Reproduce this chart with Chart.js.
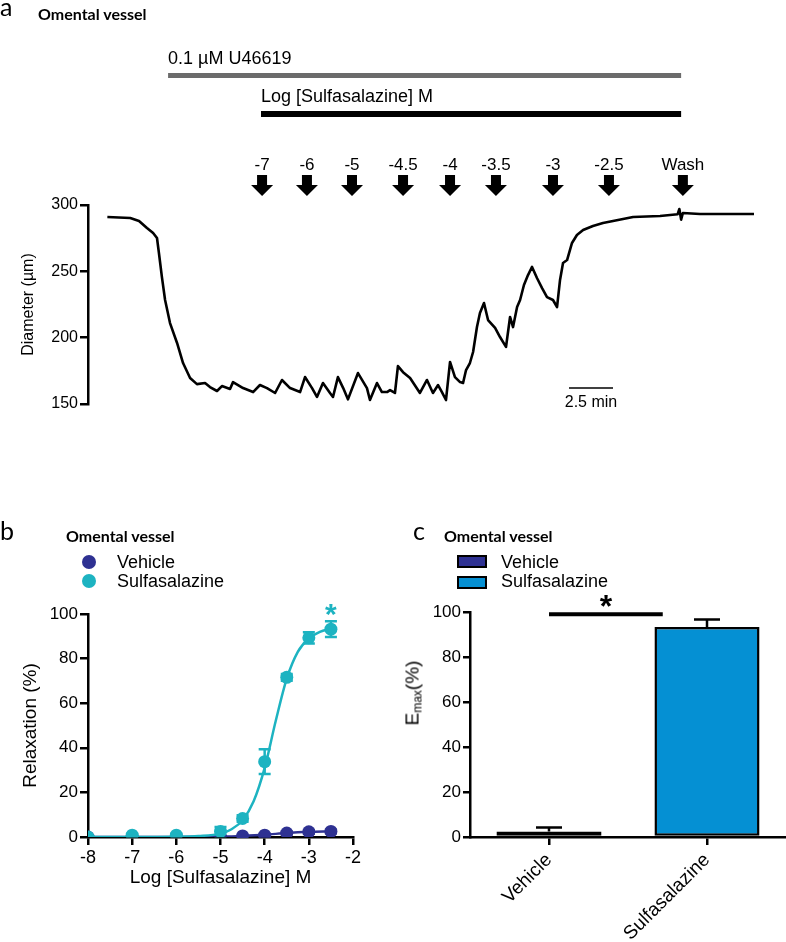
<!DOCTYPE html>
<html><head><meta charset="utf-8">
<script src="https://cdn.jsdelivr.net/npm/chart.js@4.4.1/dist/chart.umd.min.js"></script>
<style>
body{margin:0;width:786px;height:942px;position:relative;background:#fff;overflow:hidden;font-family:'Liberation Sans',Arial,sans-serif;color:#000;}
canvas{position:absolute;display:block;}
.t{position:absolute;white-space:nowrap;line-height:1;color:#000;}
.pl{font-family:Lato,'Open Sans',sans-serif;font-size:25px;}
.ttl{font-family:Lato,'Open Sans',sans-serif;font-weight:700;font-size:16px;}
.lg{font-size:18px;}
.dot{position:absolute;width:14px;height:14px;border-radius:50%;}
.sw{position:absolute;width:26px;height:9px;border:2px solid #000;}
</style></head><body>

<canvas id="ca" width="786" height="440" style="left:0;top:0"></canvas>
<canvas id="cb" width="380" height="420" style="left:0;top:500px"></canvas>
<canvas id="cc" width="406" height="442" style="left:380px;top:500px"></canvas>

<div class="t pl" style="left:0;top:-6px">a</div>
<div class="t ttl" style="left:38px;top:6px">Omental vessel</div>

<div class="t pl" style="left:0;top:518px">b</div>
<div class="t ttl" style="left:66px;top:528px">Omental vessel</div>
<div class="dot" style="left:82px;top:555px;background:#2E3192"></div>
<div class="t lg" style="left:117px;top:553px">Vehicle</div>
<div class="dot" style="left:82px;top:574px;background:#1DB3C1"></div>
<div class="t lg" style="left:117px;top:572px">Sulfasalazine</div>

<div class="t pl" style="left:413px;top:518px">c</div>
<div class="t ttl" style="left:444px;top:528px">Omental vessel</div>
<div class="sw" style="left:457px;top:555px;background:#2E3192"></div>
<div class="t lg" style="left:501px;top:553px">Vehicle</div>
<div class="sw" style="left:457px;top:576px;background:#0590D3"></div>
<div class="t lg" style="left:501px;top:572px">Sulfasalazine</div>
<div class="t" style="left:413px;top:693px;font-size:19px;color:#000;transform:translate(-50%,-50%) rotate(-90deg);transform-origin:center;">E<sub style="font-size:12px;vertical-align:-3px;color:#000">max</sub>(%)</div>

<script>
// ---------- Panel a : diameter trace ----------
const traceTime = [1.1,2.4,2.9,3.35,3.7,3.92,4.03,4.2,4.38,4.66,5.06,5.4,5.8,6.19,6.65,6.93,7.33,7.61,8.07,8.24,8.81,9.38,9.77,10.17,10.63,11.02,11.48,12.05,12.33,12.73,13.01,13.35,13.75,13.92,14.2,14.5,14.77,15.34,15.85,16.02,16.42,16.7,16.99,17.16,17.44,17.61,17.9,18.3,18.86,19.26,19.6,19.89,20.11,20.34,20.57,20.85,21.14,21.31,21.48,21.7,21.88,22.1,22.27,22.5,22.73,23.13,23.41,23.75,23.98,24.15,24.38,24.55,24.77,25,25.23,25.51,25.8,26.08,26.42,26.65,26.82,26.99,27.22,27.5,27.78,28.13,28.69,29.26,29.83,30.97,32.5,33.5,33.6,33.7,33.8,34.77,37.84];
const traceDiam = [291,290.2,288,282.7,278.9,275.1,263.8,245.7,228.4,211,196,180.9,169.6,165,165.8,162.8,159.8,163.5,161.3,166.5,162,159,164.3,162,158.3,168.1,162,159,170.3,162,155.3,165.8,158.3,155.3,170.3,162,153.5,173.3,162,153,165.8,159,159,160.5,158.3,178.6,174,169.6,158.3,168.1,158.3,164.3,159,153,181.7,170.3,166.5,165.8,175.6,180.9,189.2,208,218.6,226.1,213.3,207.3,200.5,193,215.6,208,223.1,228.4,239.7,247.2,253.3,245,237.4,230.6,228.4,223.1,243.5,256.3,258.5,271.4,277.4,281.2,284.2,286.4,287.9,291,291.7,293,297,289,294,293.2,293.2];
const doseLabels = ['-7','-6','-5','-4.5','-4','-3.5','-3','-2.5','Wash'];
const doseTimes = [9.89,12.44,15.0,17.9,20.57,23.18,26.42,29.6,33.8];
const u46619Start = 4.55, sulfaStart = 9.83, treatmentEnd = 33.7;
const scaleBarStart = 27.33, scaleBarMinutes = 2.5, scaleBarLevel = 162;
const diameterTicks = [150, 200, 250, 300];

// ---------- Panel b : concentration-response ----------
const logConc = [-8,-7,-6,-5,-4.5,-4,-3.5,-3,-2.5];
const sulfaMean = [0,0.8,0.8,2.5,8.3,33.8,71.6,89.3,93.2];
const sulfaSem  = [0,0.5,0.5,2,1.5,5.5,1.5,2.5,3.5];
const vehMean   = [0,0,0,0,0.5,0.8,1.8,2.3,2.5];
const vehSem    = [0,0,0,0,0.4,0.6,0.6,0.8,0.8];
const sulfaFitX = [-8,-7,-6,-5.5,-5,-4.75,-4.5,-4.25,-4,-3.75,-3.5,-3.25,-3,-2.75,-2.5];
const sulfaFitY = [0,0,0.1,0.4,1.5,3.5,7.5,16,31,52,71,83,89,92,93.5];
const vehFitX = [-8,-6,-5,-4.5,-4,-3.5,-3,-2.5];
const vehFitY = [0,0,0.2,0.5,1.0,1.8,2.3,2.5];

// ---------- Panel c : Emax ----------
const groups = ['Vehicle','Sulfasalazine'];
const emaxMean = [2.5, 93.3];
const emaxSem = [1.7, 3.4];
const sigFrom = 0, sigTo = 0.72, sigLevel = 99;

const BLACK = '#000';
const VEH = '#2E3192', SUL = '#1DB3C1', SULBAR = '#0590D3';
Chart.defaults.font.family = "'Liberation Sans', Arial, sans-serif";
Chart.defaults.color = BLACK;
Chart.defaults.animation = false;

function pts(xs, ys){ return xs.map((x,i)=>({x:x, y:ys[i]})); }

// ===== Panel a =====
const annotA = {
  id:'annotA',
  afterDraw(chart){
    const ctx = chart.ctx, xs = chart.scales.x, ys = chart.scales.y;
    ctx.save();
    ctx.fillStyle = '#6b6b6b';
    ctx.fillRect(xs.getPixelForValue(u46619Start), 73, xs.getPixelForValue(treatmentEnd)-xs.getPixelForValue(u46619Start), 5);
    ctx.fillStyle = BLACK;
    ctx.fillRect(xs.getPixelForValue(sulfaStart), 111, xs.getPixelForValue(treatmentEnd)-xs.getPixelForValue(sulfaStart), 6);
    ctx.font = "18px 'Liberation Sans', Arial";
    ctx.textBaseline = 'middle'; ctx.textAlign = 'left';
    ctx.fillText('0.1 µM U46619', xs.getPixelForValue(u46619Start), 59);
    ctx.fillText('Log [Sulfasalazine] M', xs.getPixelForValue(sulfaStart), 97);
    ctx.font = "17px 'Liberation Sans', Arial";
    ctx.textAlign = 'center';
    doseTimes.forEach((t,i)=>{
      const x = xs.getPixelForValue(t);
      ctx.fillText(doseLabels[i], x, 165);
      ctx.beginPath();
      ctx.moveTo(x-5,175); ctx.lineTo(x+5,175); ctx.lineTo(x+5,185); ctx.lineTo(x+11,185);
      ctx.lineTo(x,196); ctx.lineTo(x-11,185); ctx.lineTo(x-5,185); ctx.closePath();
      ctx.fill();
    });
    ctx.font = "16px 'Liberation Sans', Arial";
    const mid = xs.getPixelForValue(scaleBarStart + scaleBarMinutes/2);
    ctx.fillText('2.5 min', mid, ys.getPixelForValue(scaleBarLevel) + 15);
    ctx.restore();
  }
};
new Chart(document.getElementById('ca'), {
  type:'line',
  data:{datasets:[
    {data: pts(traceTime, traceDiam), borderColor:BLACK, borderWidth:2.6, pointRadius:0, tension:0, borderJoinStyle:'round', clip:false},
    {data: [{x:scaleBarStart,y:scaleBarLevel},{x:scaleBarStart+scaleBarMinutes,y:scaleBarLevel}], borderColor:BLACK, borderWidth:1.5, pointRadius:0}
  ]},
  options:{
    responsive:false, devicePixelRatio:1,
    layout:{padding:{top:205, right:11.6, bottom:36, left:0}},
    plugins:{legend:{display:false}, tooltip:{enabled:false}},
    scales:{
      x:{type:'linear', min:0, max:39, display:false},
      y:{min:150, max:300, afterBuildTicks(s){ s.ticks = diameterTicks.map(v=>({value:v})); },
         afterFit(s){ s.width = 88; },
         border:{display:true, color:BLACK, width:2.5},
         grid:{drawOnChartArea:false, drawTicks:true, tickLength:8, color:BLACK, lineWidth:2.5},
         ticks:{font:{size:16}, color:BLACK, padding:2},
         title:{display:true, text:'Diameter (µm)', font:{size:16}, color:BLACK, padding:{top:19}}}
    }
  },
  plugins:[annotA]
});

// ===== Panel b =====
const errB = {
  id:'errB',
  beforeDatasetsDraw(chart){
    const ctx = chart.ctx, ys = chart.scales.y;
    [[0,sulfaMean,sulfaSem,SUL],[2,vehMean,vehSem,VEH]].forEach(([di,m,s,c])=>{
      const meta = chart.getDatasetMeta(di);
      ctx.save(); ctx.strokeStyle = c; ctx.lineWidth = 2.5;
      meta.data.forEach((p,i)=>{
        if(!s[i]) return;
        const y1 = ys.getPixelForValue(m[i]+s[i]), y2 = ys.getPixelForValue(m[i]-s[i]);
        ctx.beginPath();
        ctx.moveTo(p.x,y1); ctx.lineTo(p.x,y2);
        ctx.moveTo(p.x-6,y1); ctx.lineTo(p.x+6,y1);
        ctx.moveTo(p.x-6,y2); ctx.lineTo(p.x+6,y2);
        ctx.stroke();
      });
      ctx.restore();
    });
  },
  afterDraw(chart){
    const ctx = chart.ctx, xs = chart.scales.x, ys = chart.scales.y;
    ctx.save(); ctx.fillStyle = SUL; ctx.font = "bold 30px 'Liberation Sans', Arial";
    ctx.textAlign='center'; ctx.textBaseline='middle';
    ctx.fillText('*', xs.getPixelForValue(logConc[logConc.length-1]), ys.getPixelForValue(100)+2);
    ctx.restore();
  }
};
new Chart(document.getElementById('cb'), {
  type:'line',
  data:{datasets:[
    {data: pts(logConc, sulfaMean), showLine:false, pointRadius:6.5, pointBackgroundColor:SUL, pointBorderWidth:0, order:0},
    {data: pts(sulfaFitX, sulfaFitY), borderColor:SUL, borderWidth:2.5, pointRadius:0, cubicInterpolationMode:'monotone', order:1},
    {data: pts(logConc, vehMean), showLine:false, pointRadius:6.5, pointBackgroundColor:VEH, pointBorderWidth:0, order:2},
    {data: pts(vehFitX, vehFitY), borderColor:VEH, borderWidth:2.5, pointRadius:0, cubicInterpolationMode:'monotone', order:3}
  ]},
  options:{
    responsive:false, devicePixelRatio:1,
    layout:{padding:{top:114, right:27, bottom:0, left:0}},
    plugins:{legend:{display:false}, tooltip:{enabled:false}},
    scales:{
      x:{type:'linear', min:-8, max:-2, afterFit(s){ s.height = 83; },
         border:{display:true, color:BLACK, width:2.5},
         grid:{drawOnChartArea:false, drawTicks:true, tickLength:8, color:BLACK, lineWidth:2.5},
         ticks:{stepSize:1, font:{size:18}, color:BLACK, padding:2},
         title:{display:true, text:'Log [Sulfasalazine] M', font:{size:19}, color:BLACK, padding:{bottom:31}}},
      y:{min:0, max:100, afterFit(s){ s.width = 88; },
         border:{display:true, color:BLACK, width:2.5},
         grid:{drawOnChartArea:false, drawTicks:true, tickLength:8, color:BLACK, lineWidth:2.5},
         ticks:{stepSize:20, font:{size:17}, color:BLACK, padding:2},
         title:{display:true, text:'Relaxation (%)', font:{size:19}, color:BLACK, padding:{top:19}}}
    }
  },
  plugins:[errB]
});

// ===== Panel c =====
const errC = {
  id:'errC',
  beforeDatasetsDraw(chart){
    const ctx = chart.ctx, ys = chart.scales.y, meta = chart.getDatasetMeta(0);
    ctx.save(); ctx.strokeStyle = BLACK; ctx.lineWidth = 2.5;
    meta.data.forEach((b,i)=>{
      const y1 = ys.getPixelForValue(emaxMean[i]+emaxSem[i]), y0 = ys.getPixelForValue(emaxMean[i]);
      ctx.beginPath(); ctx.moveTo(b.x,y0); ctx.lineTo(b.x,y1);
      ctx.moveTo(b.x-13,y1); ctx.lineTo(b.x+13,y1); ctx.stroke();
    });
    ctx.restore();
  },
  afterDraw(chart){
    const ctx = chart.ctx, xs = chart.scales.x, ys = chart.scales.y;
    const x0 = xs.getPixelForValue(sigFrom), x1 = xs.getPixelForValue(sigTo), y = ys.getPixelForValue(sigLevel);
    ctx.save(); ctx.strokeStyle = BLACK; ctx.lineWidth = 4;
    ctx.beginPath(); ctx.moveTo(x0,y); ctx.lineTo(x1,y); ctx.stroke();
    ctx.fillStyle = BLACK; ctx.font = "bold 32px 'Liberation Sans', Arial";
    ctx.textAlign='center'; ctx.textBaseline='middle';
    ctx.fillText('*', (x0+x1)/2, y-6);
    ctx.restore();
  }
};
new Chart(document.getElementById('cc'), {
  type:'bar',
  data:{labels:groups, datasets:[
    {data: emaxMean, backgroundColor:[VEH, SULBAR], borderColor:BLACK, borderWidth:2.5, borderSkipped:false,
     categoryPercentage:1, barPercentage:0.665}
  ]},
  options:{
    responsive:false, devicePixelRatio:1,
    layout:{padding:{top:112, right:0, bottom:0, left:0}},
    plugins:{legend:{display:false}, tooltip:{enabled:false}},
    scales:{
      x:{afterFit(s){ s.height = 105; },
         border:{display:true, color:BLACK, width:2.5},
         grid:{drawOnChartArea:false, drawTicks:true, tickLength:8, color:BLACK, lineWidth:2.5, offset:false},
         ticks:{font:{size:19}, color:BLACK, minRotation:45, maxRotation:45, padding:4}},
      y:{min:0, max:100, afterFit(s){ s.width = 90; },
         border:{display:true, color:BLACK, width:2.5},
         grid:{drawOnChartArea:false, drawTicks:true, tickLength:7, color:BLACK, lineWidth:2.5},
         ticks:{stepSize:20, font:{size:17}, color:BLACK, padding:2}}
    }
  },
  plugins:[errC]
});
</script>
</body></html>
